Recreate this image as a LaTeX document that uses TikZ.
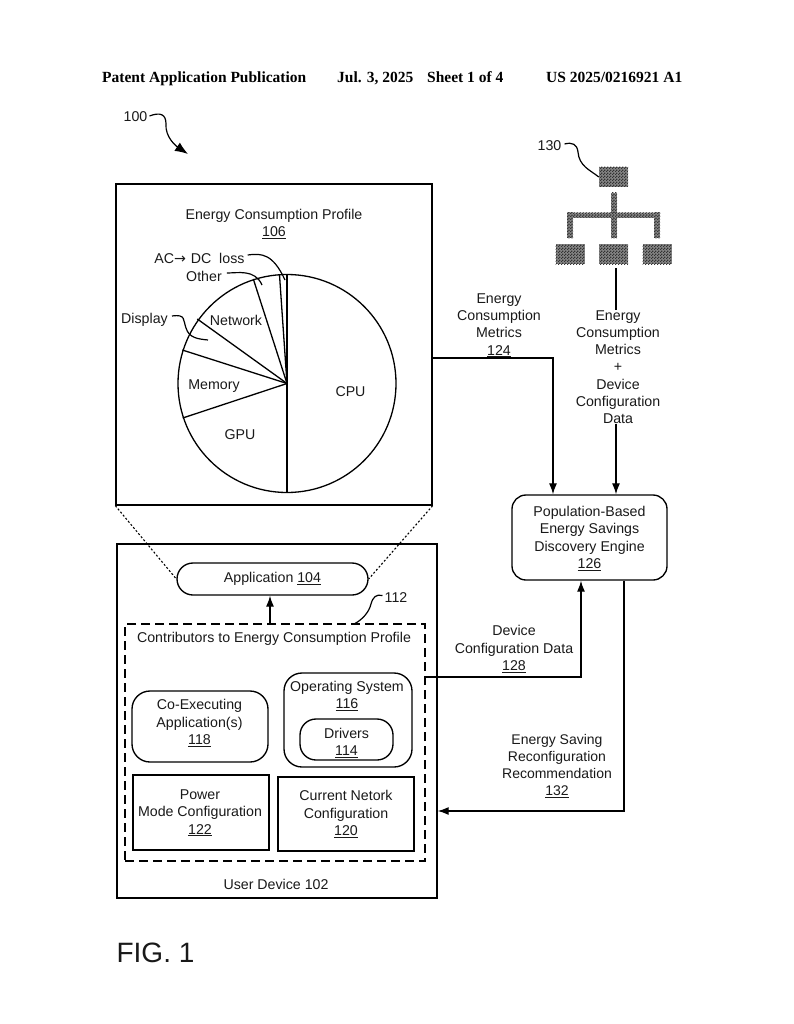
\documentclass[tikz,border=0pt]{standalone}
\usepackage{fontspec}
\setmainfont{Liberation Sans}
\newfontfamily\hdfont{Liberation Serif}
\newfontfamily\dvfont{DejaVu Sans}
\usetikzlibrary{arrows.meta,patterns}
\pgfdeclarepatternformonly{chk}{\pgfqpoint{0pt}{0pt}}{\pgfqpoint{3pt}{3pt}}{\pgfqpoint{3pt}{3pt}}{%
  \pgfpathrectangle{\pgfqpoint{0pt}{0pt}}{\pgfqpoint{1.5pt}{1.5pt}}%
  \pgfpathrectangle{\pgfqpoint{1.5pt}{1.5pt}}{\pgfqpoint{1.5pt}{1.5pt}}%
  \pgfusepath{fill}}
\tikzset{
  lbl/.style={inner sep=0pt,align=center,font=\fontsize{14.2}{17.2}\selectfont,text=black!90},
  hdr/.style={inner sep=0pt,anchor=base west,font=\hdfont\bfseries\fontsize{15.5}{17}\selectfont},
  box/.style={draw,line width=1.35pt,inner sep=0pt,align=center,font=\fontsize{14.2}{17.2}\selectfont,text=black!90},
  rbox/.style={box,rounded corners=#1},
  dashbox/.style={draw,line width=1.3pt,dash pattern=on 9pt off 5pt,inner sep=0pt},
  dotline/.style={line width=1.1pt,dash pattern=on 2pt off 2pt},
  wire/.style={line width=1.3pt},
  arrow/.style={wire,-{Latex[length=11pt,width=8pt]}},
  lead/.style={line width=1.2pt},
  dark/.style={fill=black!48,draw=none,inner sep=0pt,postaction={pattern=chk,pattern color=black!80}},
  spoke/.style={line width=1.3pt}
}
\newcommand{\ul}[1]{\underline{#1}}
\begin{document}
\begin{tikzpicture}[x=1pt,y=-1pt]
\useasboundingbox (0,0) rectangle (794,1024);
% header
\node[hdr] (h1) at (102,83) {Patent Application Publication};
\node[hdr] (h2) at (337,83) {Jul. 3, 2025};
\node[hdr] (h3) at (427,83) {Sheet 1 of 4};
\node[hdr] (h4) at (546,83) {US 2025/0216921 A1};
% 100
\node[lbl] (n100) at (135.5,117) {100};
\coordinate (t100) at (188,154);
\draw[lead,-{Latex[length=13pt,width=10pt]}] (n100.east)++(2,-1) .. controls (160,112) and (166,114) .. (166,124) .. controls (165,137) and (176,146) .. (t100);
% boxes
\node[box,minimum width=316pt,minimum height=321pt] (profile) at (274,344.5) {};
\node[box,minimum width=320pt,minimum height=354pt] (user) at (277,721) {};
\node[rbox=16pt,minimum width=191pt,minimum height=32pt] (app) at (272.5,579) {Application \ul{104}};
\node[dashbox,minimum width=300pt,minimum height=237pt] (contrib) at (275,742.5) {};
\node[rbox=18pt,minimum width=136pt,minimum height=71pt] (coexec) at (200,726.5) {};
\node[lbl] (coexectext) at (199.5,723) {Co-Executing\\Application(s)\\\ul{118}};
\node[rbox=18pt,minimum width=128pt,minimum height=94pt] (os) at (348,720) {};
\node[rbox=16pt,minimum width=93pt,minimum height=41pt] (drivers) at (346.5,739.5) {};
\node[lbl] (driverstext) at (346.5,743) {Drivers\\\ul{114}};
\node[box,minimum width=136pt,minimum height=75pt] (power) at (201,812.5) {};
\node[lbl] (powertext) at (200,813) {Power\\Mode Configuration\\\ul{122}};
\node[box,minimum width=136pt,minimum height=74pt] (netcfg) at (346,814) {Current Netork\\Configuration\\\ul{120}};
\node[rbox=14pt,minimum width=155pt,minimum height=85pt] (engine) at (589.5,537.5) {};
\node[lbl] (enginetext) at (589.5,538.5) {Population-Based\\Energy Savings\\Discovery Engine\\\ul{126}};
% box labels
\node[lbl] (ptitle) at (274,224) {Energy Consumption Profile\\\ul{106}};
\node[lbl] (ctitle) at (274,638.5) {Contributors to Energy Consumption Profile};
\node[lbl] (ostitle) at (347,696) {Operating System\\\ul{116}};
\node[lbl] (utitle) at (276,884) {User Device 102};
\node[lbl,font=\fontsize{28}{32}\selectfont] (fig) at (155.5,953) {FIG. 1};
% pie
\coordinate (pc) at (287,383.5);
\node[draw,circle,line width=1.3pt,minimum size=218pt,inner sep=0pt] (pie) at (pc) {};
\draw[line width=2pt] (pie.north) -- (pie.south);
\coordinate (s1) at (279.5,275);
\coordinate (s2) at (253.3,279);
\coordinate (s3) at (197.3,319);
\coordinate (s4) at (182.3,350);
\coordinate (s5) at (182.7,418);
\foreach \s in {s1,s2,s3,s4,s5} \draw[spoke] (pc) -- (\s);
\node[lbl] (cpu) at (350.5,392) {CPU};
\node[lbl] (gpu) at (240,435) {GPU};
\node[lbl] (mem) at (214,386.5) {Memory};
\node[lbl] (net) at (236,320) {Network};
\node[lbl] (disp) at (144.5,320) {Display};
\node[lbl] (other) at (204,276) {Other};
\node[lbl] (ac) at (199.5,258) {AC{\dvfont→}\,\,DC\ \ loss};
\coordinate (e1) at (285,280);
\coordinate (e2) at (262,285);
\coordinate (e3) at (208,340);
\draw[lead] (ac.east)++(3,-3) .. controls (262,253) and (273,254) .. (e1);
\draw[lead] (other.east)++(5,-3) .. controls (238,273) and (255,269) .. (e2);
\draw[lead] (disp.east)++(4,-4) .. controls (186,314) and (183,320) .. (186,328) .. controls (189,338) and (198,339) .. (e3);
% dotted zoom lines
\draw[dotline] (profile.south west) -- (app.west);
\draw[dotline] (profile.south east) -- (app.east);
% connectors
\draw[arrow] (contrib.north -| 270,0) -- (app.south -| 270,0);
\node[lbl] (n112) at (396,597.5) {112};
\coordinate (t112) at (355,623.5);
\draw[lead] (n112.west)++(-2,-2) .. controls (376,594) and (373,597) .. (371,604) .. controls (369,612) and (363,619) .. (t112);
% tree
\node[dark,minimum width=29pt,minimum height=20pt] (troot) at (613.5,177) {};
\node[dark,minimum width=29pt,minimum height=20pt] (tl) at (570,254) {};
\node[dark,minimum width=29pt,minimum height=20pt] (tm) at (613.5,254) {};
\node[dark,minimum width=29pt,minimum height=20pt] (tr) at (657,254) {};
\path[dark] (611,193) rectangle (617,238);
\path[dark] (567,213) rectangle (660,218);
\path[dark] (567,213) rectangle (573,238);
\path[dark] (654,213) rectangle (660,238);
\node[lbl] (n130) at (549.5,146) {130};
\draw[lead] (n130.east)++(3,-2) .. controls (572,142) and (577,144) .. (578,152) .. controls (579,166) and (590,170) .. (troot.west);
% metrics
\node[lbl] (m124) at (499,325.5) {Energy\\Consumption\\Metrics\\\ul{124}};
\draw[arrow] (profile.east |- 0,358) -| (engine.north -| 553,0);
\node[lbl] (m130) at (618,367) {Energy\\Consumption\\Metrics\\+\\Device\\Configuration\\Data};
\draw[wire] (tm.south -| 616,0) ++(0,4) -- (m130.north -| 616,0);
\draw[arrow] (m130.south -| 616,0) -- (engine.north -| 616,0);
\node[lbl] (m128) at (514,649) {Device\\Configuration Data\\\ul{128}};
\draw[arrow] (contrib.east |- 0,677) -| (engine.south -| 581,0);
\node[lbl,font=\fontsize{14}{17.2}\selectfont] (m132) at (557,766) {Energy Saving\\Reconfiguration\\Recommendation\\\ul{132}};
\draw[arrow] (engine.south -| 624,0) |- (user.east |- 0,811);
\end{tikzpicture}
\end{document}
